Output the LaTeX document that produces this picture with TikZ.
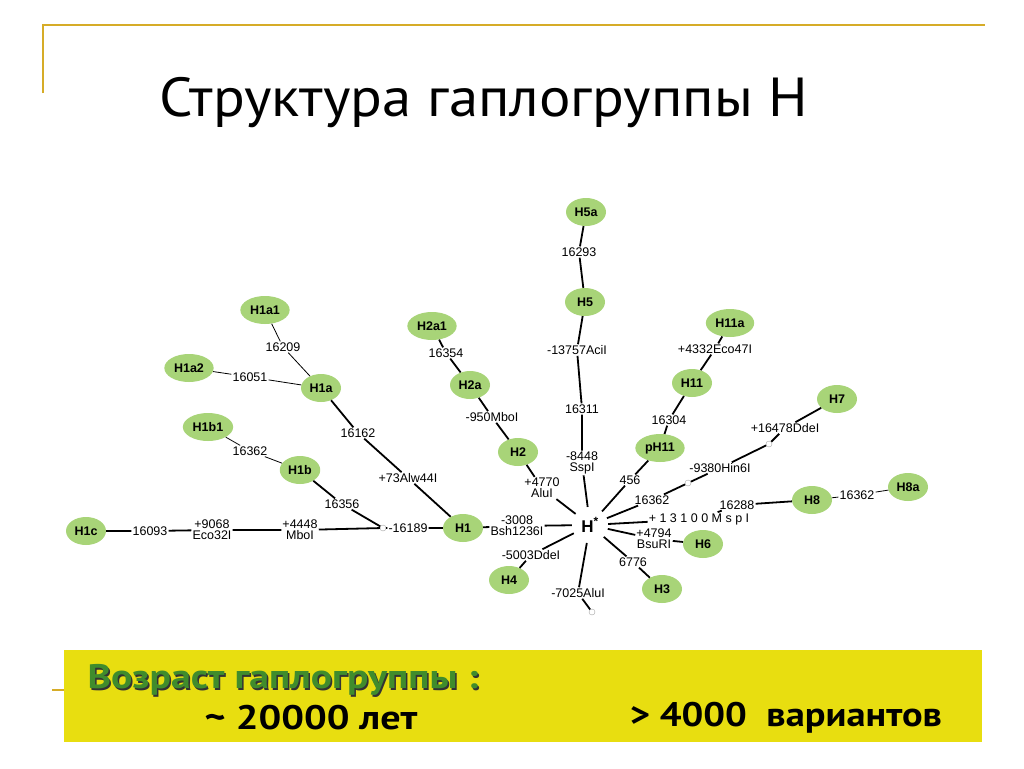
\documentclass[tikz,border=0pt]{standalone}
\usepackage{fontspec}
\setmainfont{Liberation Sans}
\newfontfamily\slidefont{PT Sans}
\usetikzlibrary{shapes.geometric}
\definecolor{leaf}{RGB}{168,212,120}
\definecolor{rulegold}{RGB}{214,172,40}
\definecolor{band}{RGB}{232,222,16}
\definecolor{moss}{RGB}{64,140,44}

\begin{document}
\begin{tikzpicture}[x=1pt, y=-1pt,
    hg/.style={ellipse, fill=leaf, minimum width=40pt, minimum height=28pt, inner xsep=2.5pt, font=\fontsize{12.5}{12}\selectfont\bfseries},
    mut/.style={font=\fontsize{12.5}{11}\selectfont, inner sep=1pt, align=center},
    knot/.style={circle, draw=gray!70, fill=white, line width=0.4pt, inner sep=0pt, minimum size=6pt},
    link/.style={line width=1.8pt},
    twig/.style={line width=0.8pt},
    big/.style={font=\slidefont\fontsize{34}{34}\selectfont\bfseries}
]
\useasboundingbox (0,0) rectangle (1024,768);
\fill[white] (0,0) rectangle (1024,768);

% slide frame and title
\draw[rulegold, line width=1.5pt] (43,93) -- (43,25) -- (985,25);
\draw[rulegold, line width=1.5pt] (52,690) -- (66,690);
\node[font=\slidefont\fontsize{55}{55}\selectfont] (title) at (484,103) {\scalebox{1.07}[1]{Структура гаплогруппы H}};

% haplogroups
\node[hg] (h5a) at (586,212) {H5a};
\node[hg] (h5) at (585,302) {H5};
\node[hg] (h1a1) at (265,310) {H1a1};
\node[hg] (h2a1) at (432,326) {H2a1};
\node[hg] (h11a) at (730,323) {H11a};
\node[hg] (h1a2) at (189,368) {H1a2};
\node[hg] (h1a) at (321,388) {H1a};
\node[hg] (h2a) at (470,385) {H2a};
\node[hg] (h11) at (692,383) {H11};
\node[hg] (h7) at (837,399) {H7};
\node[hg] (h1b1) at (208,427) {H1b1};
\node[hg] (ph11) at (660,448) {pH11};
\node[hg] (h2) at (518,452) {H2};
\node[hg] (h1b) at (300,470) {H1b};
\node[hg] (h8) at (812,500) {H8};
\node[hg] (h8a) at (908,487) {H8a};
\node[hg] (h1c) at (86,531) {H1c};
\node[hg] (h1) at (463,528) {H1};
\node[hg] (h6) at (703,544) {H6};
\node[hg] (h4) at (509,580) {H4};
\node[hg] (h3) at (662,589) {H3};
\node[circle, minimum size=36pt, inner sep=0pt, font=\fontsize{17}{17}\selectfont\bfseries] (hs) at (590,525) {H\textsuperscript{*}};

% branch points
\node[knot] (j1) at (383,528) {};
\node[knot] (c1) at (688,483) {};
\node[knot] (c2) at (769,444) {};
\node[knot] (c3) at (592,612) {};

% mutations
\node[mut] (m16293) at (579,252) {16293};
\node[mut] (m13757) at (577,350) {-13757AciI};
\node[mut] (m16311) at (582,409) {16311};
\node[mut] (m8448) at (582,463) {-8448\\SspI};
\node[mut] (m16209) at (283,347) {16209};
\node[mut] (m16051) at (250,377) {16051};
\node[mut] (m16162) at (358,433) {16162};
\node[mut] (m73) at (408,478) {+73Alw44I};
\node[mut] (m16362a) at (250,451) {16362};
\node[mut] (m16356) at (342,504) {16356};
\node[mut] (m16189) at (408,528) {-16189};
\node[mut] (m4448) at (300,530) {+4448\\MboI};
\node[mut] (m9068) at (212,530) {+9068\\Eco32I};
\node[mut] (m16093) at (150,531) {16093};
\node[mut] (m3008) at (517,526) {-3008\\Bsh1236I};
\node[mut] (m16354) at (446,353) {16354};
\node[mut] (m950) at (492,417) {-950MboI};
\node[mut] (m4770) at (542,488) {+4770\\AluI};
\node[mut] (m5003) at (531,555) {-5003DdeI};
\node[mut] (m7025) at (578,593) {-7025AluI};
\node[mut] (m4332) at (715,349) {+4332Eco47I};
\node[mut] (m16304) at (669,420) {16304};
\node[mut] (m456) at (630,480) {456};
\node[mut] (m16362b) at (652,500) {16362};
\node[mut] (m9380) at (720,468) {-9380Hin6I};
\node[mut] (m16478) at (785,428) {+16478DdeI};
\node[mut] (m13100) at (699,519) {+ 1 3 1 0 0 M s p I};
\node[mut] (m16288) at (737,505) {16288};
\node[mut] (m16362c) at (857,495) {16362};
\node[mut] (m4794) at (654,539) {+4794\\BsuRI};
\node[mut] (m6776) at (633,562) {6776};

% branches
\draw[link] (h5a) -- (m16293) -- (h5) -- (m13757) -- (m16311) -- (m8448) -- (hs);
\draw[twig] (h1a1) -- (m16209) -- (h1a);
\draw[twig] (h1a2) -- (m16051) -- (h1a);
\draw[link] (h1a) -- (m16162) -- (m73) -- (h1);
\draw[twig] (h1b1) -- (m16362a) -- (h1b);
\draw[link] (h1b) -- (m16356) -- (j1);
\draw[link] (h1c) -- (m16093) -- (m9068) -- (m4448) -- (j1) -- (m16189) -- (h1);
\draw[link] (h1) -- (m3008) -- (hs);
\draw[link] (h2a1) -- (m16354) -- (h2a) -- (m950) -- (h2) -- (m4770) -- (hs);
\draw[link] (h11a) -- (m4332) -- (h11) -- (m16304) -- (ph11) -- (m456) -- (hs);
\draw[link] (hs) -- (m16362b) -- (c1) -- (m9380) -- (c2) -- (m16478) -- (h7);
\draw[link] (hs) -- (m13100) -- (m16288) -- (h8);
\draw[twig] (h8) -- (m16362c) -- (h8a);
\draw[link] (hs) -- (m4794) -- (h6);
\draw[link] (hs) -- (m6776) -- (h3);
\draw[link] (hs) -- (m5003) -- (h4);
\draw[link] (hs) -- (m7025) -- (c3);

% age band
\fill[band] (64,650) rectangle (982,742);
\node[big, anchor=west, text=black!80] (ageshade) at (85.5,681.5) {\scalebox{1.17}[1]{Возраст гаплогруппы :}};
\node[big, anchor=west, text=moss] (age) at (84,680) {\scalebox{1.17}[1]{Возраст гаплогруппы :}};
\node[big] (years) at (311,718) {\scalebox{1.18}[1]{\textasciitilde{} 20000 лет}};
\node[big] (variants) at (786,718) {\scalebox{1.13}[1]{> 4000~ вариантов}};
\end{tikzpicture}
\end{document}
